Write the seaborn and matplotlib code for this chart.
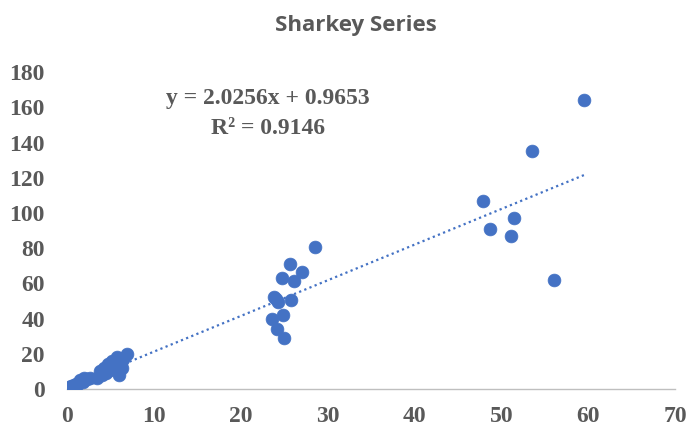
import matplotlib
matplotlib.use("Agg")
import matplotlib.pyplot as plt
import seaborn as sns
import numpy as np
import pandas as pd

# Data
x_vals = [0.1, 0.3, 0.5, 0.8, 1.0, 1.2, 1.5, 1.8, 2.0, 2.3, 2.6,
          3.5, 3.8, 4.0, 4.2, 4.5, 4.7, 5.0, 5.2, 5.5, 5.7, 6.0, 6.2, 6.0, 6.5, 6.9, 6.3,
          23.6, 23.8, 24.0, 24.2, 24.3, 24.7, 24.9, 25.0, 25.7, 25.8, 26.1, 27.1, 28.6,
          47.9, 48.7, 51.1, 51.4, 53.5, 56.0, 59.5]
y_vals = [0.5, 1.0, 1.5, 2.0, 3.0, 2.5, 5.0, 4.0, 6.0, 5.5, 6.0,
          6.0, 10.0, 8.0, 12.0, 9.0, 14.0, 11.0, 16.0, 13.0, 18.0, 10.0, 15.0, 8.0, 17.0, 20.0, 12.0,
          40.0, 52.0, 51.0, 34.0, 49.5, 63.0, 42.0, 29.0, 71.0, 50.5, 61.5, 66.5, 80.5,
          107.0, 91.0, 87.0, 97.0, 135.0, 62.0, 164.0]
slope = 2.0256
intercept = 0.9653
r2 = 0.9146
title = "Sharkey Series"
x_ticks = [0, 10, 20, 30, 40, 50, 60, 70]
y_ticks = [0, 20, 40, 60, 80, 100, 120, 140, 160, 180]

df = pd.DataFrame({"x": x_vals, "y": y_vals})

sns.set_theme(style="white")
plt.rcParams["font.family"] = ["DejaVu Sans"]

fig = plt.figure(figsize=(6.96, 4.29), dpi=100)
ax = fig.add_axes([0.0963, 0.0932, 0.8737, 0.7388])

blue = "#4472C4"
sns.scatterplot(data=df, x="x", y="y", ax=ax, color=blue, s=85,
                edgecolor=blue, linewidth=0.5, zorder=3)

tx = np.array([min(x_vals), max(x_vals)])
ax.plot(tx, slope * tx + intercept, linestyle=(0, (1, 1.5)), color=blue,
        linewidth=1.6, zorder=2)

ax.set_xlim(0, 70)
ax.set_ylim(0, 180)
ax.set_xticks(x_ticks)
ax.set_yticks(y_ticks)
ax.set_xlabel("")
ax.set_ylabel("")

for s in ["top", "right", "left"]:
    ax.spines[s].set_visible(False)
ax.spines["bottom"].set_color("#BFBFBF")
ax.spines["bottom"].set_linewidth(1.0)
ax.tick_params(axis="both", length=0, labelcolor="#595959")
ax.tick_params(axis="x", pad=12)
ax.tick_params(axis="y", pad=16)
for lab in ax.get_xticklabels() + ax.get_yticklabels():
    lab.set_fontfamily("Liberation Serif")
    lab.set_fontweight("bold")
    lab.set_fontsize(17)
ax.grid(False)
ax.set_clip_on(False)

ax.text(23.1, 165.2, f"y = {slope}x + {intercept}", ha="center", va="center",
        fontsize=17, fontweight="bold", family="Liberation Serif", color="#595959")
ax.text(23.1, 148.2, f"R² = {r2}", ha="center", va="center",
        fontsize=17, fontweight="bold", family="Liberation Serif", color="#595959")

fig.text(0.511, 0.928, title, ha="center", va="baseline", fontsize=16,
         fontweight="bold", family="Open Sans", color="#595959")

fig.savefig("out.png", dpi=100)
